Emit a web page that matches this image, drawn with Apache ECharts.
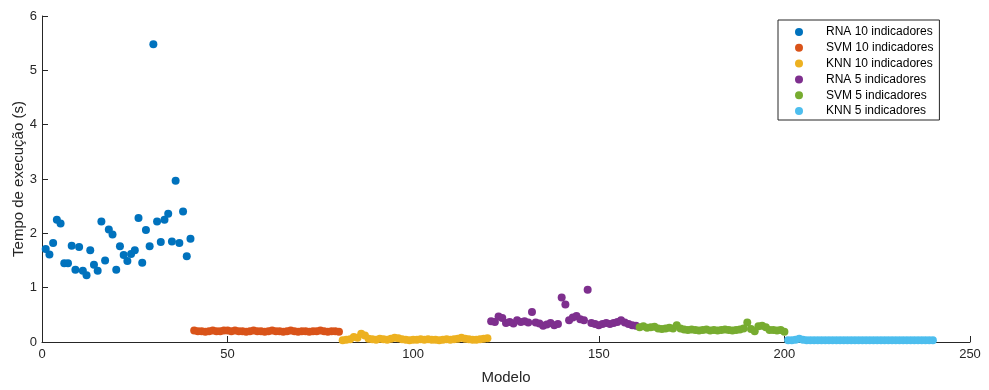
<!DOCTYPE html>
<html>
<head>
<meta charset="utf-8">
<script src="https://cdn.jsdelivr.net/npm/echarts@6/dist/echarts.min.js"></script>
<style>html,body{margin:0;padding:0;background:#fff;}#c{width:989px;height:390px;}</style>
</head>
<body>
<div id="c"></div>
<script>
const seriesNames = ['RNA 10 indicadores','SVM 10 indicadores','KNN 10 indicadores','RNA 5 indicadores','SVM 5 indicadores','KNN 5 indicadores'];
const seriesStart = [1, 41, 81, 121, 161, 201];
const rna10 = [1.71,1.61,1.82,2.25,2.18,1.45,1.45,1.77,1.33,1.75,1.31,1.23,1.69,1.42,1.31,2.22,1.50,2.07,1.98,1.33,
               1.76,1.60,1.49,1.62,1.69,2.28,1.46,2.06,1.76,5.48,2.22,1.84,2.25,2.36,1.85,2.97,1.82,2.40,1.58,1.90];
const svm10 = [0.21,0.20,0.20,0.19,0.20,0.21,0.20,0.20,0.21,0.21,0.20,0.21,0.20,0.20,0.19,0.20,0.21,0.20,0.20,0.19,
               0.20,0.21,0.20,0.20,0.19,0.20,0.21,0.20,0.19,0.20,0.20,0.19,0.20,0.20,0.21,0.20,0.19,0.20,0.20,0.19];
const knn10 = [0.03,0.04,0.05,0.09,0.08,0.15,0.12,0.06,0.05,0.04,0.06,0.05,0.04,0.06,0.08,0.07,0.05,0.04,0.03,0.04,
               0.04,0.05,0.04,0.05,0.04,0.04,0.03,0.04,0.05,0.04,0.05,0.06,0.08,0.06,0.05,0.04,0.04,0.05,0.06,0.07];
const rna5  = [0.38,0.37,0.47,0.44,0.35,0.37,0.34,0.40,0.37,0.38,0.36,0.55,0.36,0.34,0.30,0.32,0.35,0.31,0.33,0.82,
               0.69,0.40,0.45,0.48,0.42,0.40,0.96,0.35,0.33,0.31,0.33,0.35,0.33,0.35,0.37,0.40,0.36,0.33,0.31,0.30];
const svm5  = [0.27,0.29,0.26,0.27,0.28,0.25,0.24,0.25,0.26,0.25,0.31,0.25,0.23,0.22,0.23,0.22,0.21,0.22,0.23,0.21,
               0.22,0.21,0.22,0.23,0.22,0.21,0.22,0.23,0.25,0.36,0.24,0.20,0.29,0.30,0.27,0.22,0.22,0.21,0.22,0.19];
const knn5  = [0.03,0.03,0.04,0.06,0.04,0.03,0.03,0.03,0.03,0.03,0.03,0.03,0.03,0.03,0.03,0.03,0.03,0.03,0.03,0.03,
               0.03,0.03,0.03,0.03,0.03,0.03,0.03,0.03,0.03,0.03,0.03,0.03,0.03,0.03,0.03,0.03,0.03,0.03,0.03,0.03];
const allValues = [rna10, svm10, knn10, rna5, svm5, knn5];
const colors = ['#0072BD','#D95319','#EDB120','#7E2F8E','#77AC30','#4DBEEE'];
const xTicks = [0,50,100,150,200,250];
const yTicks = [0,1,2,3,4,5,6];

const txt = '#262626';
const font = 'Liberation Sans';
const chart = echarts.init(document.getElementById('c'), null, {renderer:'canvas'});
chart.setOption({
  animation:false,
  backgroundColor:'#fff',
  textStyle:{fontFamily:font},
  grid:{left:42, right:19, top:16, bottom:48, containLabel:false, outerBoundsMode:'none'},
  legend:{
    orient:'vertical', left:778, top:20,
    data:seriesNames,
    icon:'circle', itemWidth:8, itemHeight:8, itemGap:3.8,
    padding:[6,6,3,17],
    borderColor:'#262626', borderWidth:1, borderRadius:0,
    backgroundColor:'#fff',
    textStyle:{color:'#000', fontSize:12, lineHeight:12, fontFamily:font, padding:[0,0,0,18]}
  },
  xAxis:{
    type:'value', min:xTicks[0], max:xTicks[xTicks.length-1], interval:50,
    name:'Modelo', nameLocation:'middle', nameGap:28, nameMoveOverlap:false,
    nameTextStyle:{color:txt, fontSize:15, fontFamily:font},
    axisLine:{show:true, lineStyle:{color:txt, width:1}},
    axisTick:{show:true, inside:true, length:6, lineStyle:{color:txt}},
    axisLabel:{color:txt, fontSize:13, margin:6, fontFamily:font},
    splitLine:{show:false}
  },
  yAxis:{
    type:'value', min:yTicks[0], max:yTicks[yTicks.length-1], interval:1,
    name:'Tempo de execução (s)', nameLocation:'middle', nameGap:16, nameRotate:90, nameMoveOverlap:false,
    nameTextStyle:{color:txt, fontSize:15, fontFamily:font},
    axisLine:{show:true, lineStyle:{color:txt, width:1}},
    axisTick:{show:true, inside:true, length:6, lineStyle:{color:txt}},
    axisLabel:{color:txt, fontSize:13, margin:5, fontFamily:font},
    splitLine:{show:false}
  },
  series: seriesNames.map((n,si)=>({
    name:n, type:'scatter', symbol:'circle', symbolSize:8,
    itemStyle:{color:colors[si], opacity:1},
    data: allValues[si].map((v,i)=>[seriesStart[si]+i, v])
  }))
});
</script>
</body>
</html>
